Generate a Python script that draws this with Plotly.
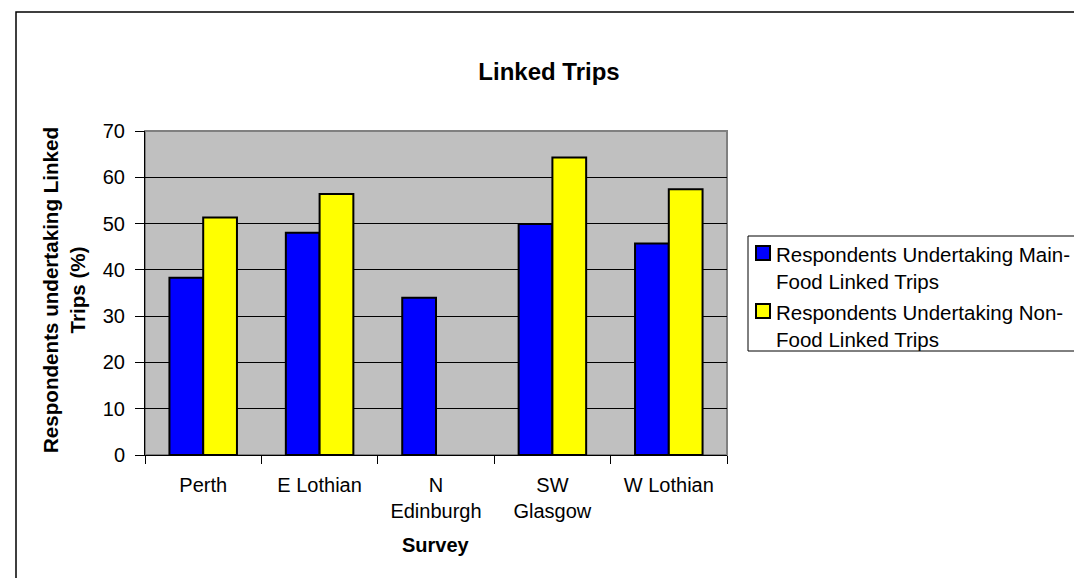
import plotly.graph_objects as go

categories = ["Perth", "E Lothian", "N<br>Edinburgh", "SW<br>Glasgow", "W Lothian"]
main_food = [38.3, 48.0, 34.0, 49.9, 45.7]
non_food = [51.3, 56.4, None, 64.3, 57.4]
series_names = ["Respondents Undertaking Main-<br>Food Linked Trips",
                "Respondents Undertaking Non-<br>Food Linked Trips"]
series_colors = ["#0000FF", "#FFFF00"]
y_ticks = [0, 10, 20, 30, 40, 50, 60, 70]

FONT = "Arial, Liberation Sans, sans-serif"

fig = go.Figure()
for vals, name, col in zip([main_food, non_food], series_names, series_colors):
    fig.add_trace(go.Bar(x=categories, y=vals, name=name, showlegend=False,
                         marker=dict(color=col, line=dict(color="black", width=2))))

L, R, T, B = 137, 363, 123, 131
PW, PH = 1082 - L - R, 578 - T - B

def px(x):
    return (x - L) / PW

def py(y):
    return (578 - B - y) / PH

shapes = [
    dict(type="rect", xref="paper", yref="paper", x0=0, x1=1, y0=0, y1=1,
         line=dict(color="#808080", width=2), layer="below"),
    dict(type="rect", xref="paper", yref="paper", x0=px(8), x1=px(1095), y0=py(595), y1=py(4),
         line=dict(color="black", width=1.5)),
    # legend box
    dict(type="rect", xref="paper", yref="paper", x0=px(740), x1=px(1080), y0=py(343), y1=py(228),
         line=dict(color="black", width=1), fillcolor="white"),
]
annotations = [
    dict(text="<b>Respondents undertaking Linked<br>Trips (%)</b>", textangle=-90,
         xref="paper", yref="paper", x=px(56), y=py(282), xanchor="center", yanchor="middle",
         showarrow=False, font=dict(size=20.6, family=FONT)),
    dict(text="<b>Survey</b>", xref="paper", yref="paper", x=0.5, y=py(537),
         xanchor="center", yanchor="middle", showarrow=False, font=dict(size=20, family=FONT)),
]
# legend entries
entry_top = [238, 296]
for top, name, col in zip(entry_top, series_names, series_colors):
    shapes.append(dict(type="rect", xref="paper", yref="paper", x0=px(748), x1=px(762),
                       y0=py(top + 14), y1=py(top), fillcolor=col, line=dict(color="black", width=2)))
    annotations.append(dict(text=name, xref="paper", yref="paper", x=px(766), y=py(top - 5),
                            xanchor="left", yanchor="top", align="left", showarrow=False,
                            font=dict(size=20.5, family=FONT)))

fig.update_layout(
    width=1082, height=578,
    margin=dict(l=L, r=R, t=T, b=B),
    paper_bgcolor="white",
    plot_bgcolor="#C0C0C0",
    font=dict(family=FONT, size=20, color="black"),
    barmode="group", bargap=0.42, bargroupgap=0,
    title=dict(text="<b>Linked Trips</b>", font=dict(size=24, family=FONT),
               x=0.5, xanchor="center", xref="container", y=1 - 64 / 578, yanchor="middle",
               yref="container"),
    showlegend=False,
    xaxis=dict(showline=True, linecolor="black", linewidth=1, ticks="outside", ticklen=8,
               tickcolor="black", tickson="boundaries", showgrid=False,
               tickfont=dict(size=20), ticklabelstandoff=12, fixedrange=True),
    yaxis=dict(range=[0, 70], tickvals=y_ticks, showline=True, linecolor="black", linewidth=1,
               ticks="outside", ticklen=9, tickcolor="black", showgrid=True, gridcolor="black",
               gridwidth=1, tickfont=dict(size=20), ticklabelstandoff=6, zeroline=False),
    shapes=shapes,
    annotations=annotations,
)

fig.write_html("out.html")
